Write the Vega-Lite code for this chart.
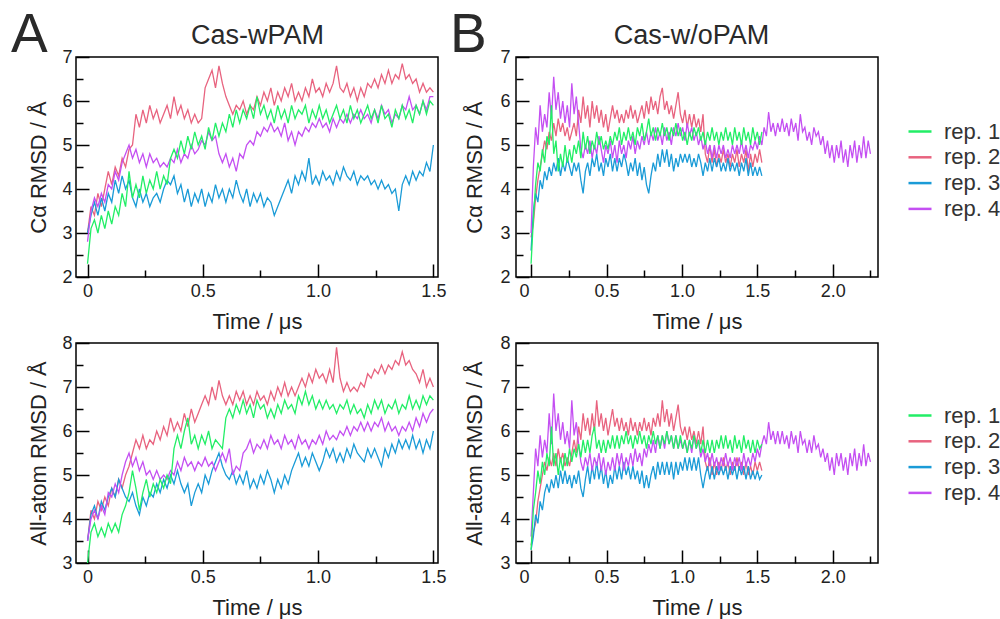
{
"$schema":"https://vega.github.io/schema/vega-lite/v6.json",
"background":"white",
"padding":{"left":10,"top":7,"right":0,"bottom":0},
"config":{
"font":"Liberation Sans",
"view":{"stroke":"#000","strokeWidth":1.5},
"axis":{"domain":false,"grid":false,"tickColor":"#000","tickWidth":1.5,"labelFontSize":18,"labelColor":"#222","labelFont":"Liberation Sans","titleFont":"Liberation Sans","titleFontSize":22,"titleFontWeight":"normal","titleColor":"#222","labelOverlap":false,"labelFlush":false,"labelBound":false},
"title":{"font":"Liberation Sans","fontWeight":"normal","color":"#2a2a2a"}
},
"datasets":{
"at":[
{"t":0,"a":2.3,"b":3.0,"c":3.0,"d":2.8},
{"t":0.015,"a":3.1,"b":3.6,"c":3.4,"d":3.5},
{"t":0.03,"a":3.3,"b":3.4,"c":3.7,"d":3.8},
{"t":0.045,"a":3.0,"b":3.9,"c":3.4,"d":3.6},
{"t":0.06,"a":3.4,"b":3.6,"c":3.8,"d":3.9},
{"t":0.075,"a":3.1,"b":4.0,"c":3.5,"d":3.7},
{"t":0.09,"a":3.5,"b":4.4,"c":3.9,"d":4.1},
{"t":0.105,"a":3.2,"b":4.1,"c":3.7,"d":4.0},
{"t":0.12,"a":3.6,"b":4.5,"c":4.2,"d":4.4},
{"t":0.135,"a":3.4,"b":4.3,"c":3.9,"d":4.2},
{"t":0.15,"a":3.9,"b":4.7,"c":4.3,"d":4.6},
{"t":0.165,"a":3.6,"b":4.5,"c":4.0,"d":4.8},
{"t":0.18,"a":4.4,"b":4.9,"c":4.2,"d":5.0},
{"t":0.195,"a":3.8,"b":5.0,"c":3.8,"d":4.7},
{"t":0.21,"a":4.1,"b":5.7,"c":3.6,"d":4.9},
{"t":0.225,"a":3.8,"b":5.4,"c":4.0,"d":4.6},
{"t":0.24,"a":4.3,"b":5.8,"c":3.7,"d":4.8},
{"t":0.255,"a":3.9,"b":5.5,"c":3.9,"d":4.5},
{"t":0.27,"a":4.2,"b":5.9,"c":3.6,"d":4.8},
{"t":0.285,"a":4.0,"b":5.6,"c":3.8,"d":4.6},
{"t":0.3,"a":4.4,"b":5.8,"c":3.9,"d":4.7},
{"t":0.315,"a":4.0,"b":5.5,"c":3.7,"d":4.5},
{"t":0.33,"a":4.3,"b":5.7,"c":4.0,"d":4.6},
{"t":0.345,"a":4.1,"b":5.9,"c":4.2,"d":4.5},
{"t":0.36,"a":4.7,"b":5.6,"c":4.1,"d":4.7},
{"t":0.375,"a":4.9,"b":6.1,"c":4.3,"d":4.6},
{"t":0.39,"a":4.7,"b":5.7,"c":3.9,"d":4.9},
{"t":0.405,"a":5.1,"b":5.9,"c":4.1,"d":4.6},
{"t":0.42,"a":4.8,"b":5.6,"c":3.7,"d":4.8},
{"t":0.435,"a":5.2,"b":5.8,"c":4.0,"d":4.7},
{"t":0.45,"a":4.9,"b":5.5,"c":3.6,"d":5.0},
{"t":0.465,"a":5.3,"b":5.7,"c":3.9,"d":4.8},
{"t":0.48,"a":5.0,"b":5.5,"c":3.7,"d":4.9},
{"t":0.495,"a":5.2,"b":5.6,"c":4.0,"d":5.1},
{"t":0.51,"a":4.9,"b":6.3,"c":3.6,"d":5.0},
{"t":0.525,"a":5.4,"b":6.5,"c":3.9,"d":5.3},
{"t":0.54,"a":5.1,"b":6.7,"c":3.7,"d":5.1},
{"t":0.555,"a":5.5,"b":6.3,"c":4.1,"d":5.2},
{"t":0.57,"a":5.2,"b":6.8,"c":3.8,"d":4.8},
{"t":0.585,"a":5.5,"b":6.4,"c":4.0,"d":4.6},
{"t":0.6,"a":5.3,"b":6.1,"c":3.7,"d":4.8},
{"t":0.615,"a":5.7,"b":5.9,"c":4.0,"d":4.5},
{"t":0.63,"a":5.4,"b":5.7,"c":3.8,"d":4.7},
{"t":0.645,"a":5.8,"b":5.9,"c":4.2,"d":4.4},
{"t":0.66,"a":5.5,"b":5.8,"c":3.9,"d":4.8},
{"t":0.675,"a":5.8,"b":6.0,"c":3.7,"d":4.7},
{"t":0.69,"a":5.6,"b":5.7,"c":4.0,"d":5.0},
{"t":0.705,"a":5.9,"b":5.9,"c":3.6,"d":5.1},
{"t":0.72,"a":5.6,"b":5.8,"c":3.9,"d":5.0},
{"t":0.735,"a":6.1,"b":6.1,"c":3.7,"d":5.3},
{"t":0.75,"a":5.7,"b":5.9,"c":3.9,"d":5.2},
{"t":0.765,"a":5.9,"b":6.2,"c":3.6,"d":5.4},
{"t":0.78,"a":5.6,"b":6.0,"c":3.8,"d":5.3},
{"t":0.795,"a":5.8,"b":6.3,"c":3.7,"d":5.5},
{"t":0.81,"a":5.5,"b":5.9,"c":3.4,"d":5.3},
{"t":0.825,"a":5.9,"b":6.2,"c":3.6,"d":5.4},
{"t":0.84,"a":5.6,"b":6.0,"c":3.8,"d":5.2},
{"t":0.855,"a":5.8,"b":6.3,"c":4.0,"d":5.5},
{"t":0.87,"a":5.5,"b":6.1,"c":4.2,"d":5.1},
{"t":0.885,"a":5.9,"b":6.4,"c":3.9,"d":5.3},
{"t":0.9,"a":5.6,"b":6.0,"c":4.3,"d":5.0},
{"t":0.915,"a":5.8,"b":6.2,"c":4.1,"d":5.3},
{"t":0.93,"a":5.7,"b":6.0,"c":4.4,"d":5.2},
{"t":0.945,"a":5.9,"b":6.3,"c":4.2,"d":5.4},
{"t":0.96,"a":5.5,"b":6.1,"c":4.7,"d":5.3},
{"t":0.975,"a":5.8,"b":6.5,"c":4.1,"d":5.5},
{"t":0.99,"a":5.6,"b":6.2,"c":4.3,"d":5.4},
{"t":1.005,"a":5.9,"b":6.3,"c":4.1,"d":5.6},
{"t":1.02,"a":5.6,"b":6.1,"c":4.4,"d":5.4},
{"t":1.035,"a":5.8,"b":6.4,"c":4.2,"d":5.5},
{"t":1.05,"a":5.5,"b":6.2,"c":4.3,"d":5.3},
{"t":1.065,"a":5.7,"b":6.4,"c":4.1,"d":5.6},
{"t":1.08,"a":5.9,"b":6.8,"c":4.4,"d":5.4},
{"t":1.095,"a":5.6,"b":6.3,"c":4.2,"d":5.6},
{"t":1.11,"a":5.8,"b":6.2,"c":4.5,"d":5.5},
{"t":1.125,"a":5.5,"b":6.4,"c":4.3,"d":5.7},
{"t":1.14,"a":5.9,"b":6.1,"c":4.2,"d":5.5},
{"t":1.155,"a":5.6,"b":6.3,"c":4.4,"d":5.7},
{"t":1.17,"a":5.8,"b":6.0,"c":4.1,"d":5.6},
{"t":1.185,"a":5.5,"b":6.3,"c":4.3,"d":5.8},
{"t":1.2,"a":5.7,"b":6.1,"c":4.2,"d":5.6},
{"t":1.215,"a":5.9,"b":6.4,"c":4.3,"d":5.7},
{"t":1.23,"a":5.6,"b":6.3,"c":4.1,"d":5.5},
{"t":1.245,"a":5.8,"b":6.5,"c":4.2,"d":5.8},
{"t":1.26,"a":5.5,"b":6.3,"c":4.0,"d":5.6},
{"t":1.275,"a":5.9,"b":6.6,"c":4.2,"d":5.9},
{"t":1.29,"a":5.6,"b":6.4,"c":4.0,"d":5.7},
{"t":1.305,"a":5.7,"b":6.7,"c":4.1,"d":5.8},
{"t":1.32,"a":5.4,"b":6.4,"c":3.9,"d":5.5},
{"t":1.335,"a":5.8,"b":6.6,"c":4.0,"d":5.7},
{"t":1.35,"a":5.6,"b":6.5,"c":3.5,"d":5.6},
{"t":1.365,"a":5.9,"b":6.85,"c":4.1,"d":5.9},
{"t":1.38,"a":5.6,"b":6.5,"c":4.3,"d":5.8},
{"t":1.395,"a":5.8,"b":6.6,"c":4.1,"d":6.1},
{"t":1.41,"a":5.5,"b":6.4,"c":4.4,"d":5.8},
{"t":1.425,"a":5.9,"b":6.5,"c":4.2,"d":5.9},
{"t":1.44,"a":5.7,"b":6.2,"c":4.4,"d":5.7},
{"t":1.455,"a":6.0,"b":6.4,"c":4.3,"d":6.0},
{"t":1.47,"a":5.7,"b":6.2,"c":4.6,"d":5.8},
{"t":1.485,"a":6.0,"b":6.3,"c":4.4,"d":6.1},
{"t":1.5,"a":5.9,"b":6.2,"c":5.0,"d":6.1}
],
"ab":[
{"t":0,"a":3.0,"b":3.5,"c":3.5,"d":3.5},
{"t":0.015,"a":3.7,"b":4.2,"c":4.1,"d":4.0},
{"t":0.03,"a":3.9,"b":4.0,"c":4.3,"d":4.2},
{"t":0.045,"a":3.6,"b":4.4,"c":4.0,"d":4.0},
{"t":0.06,"a":3.8,"b":4.2,"c":4.4,"d":4.3},
{"t":0.075,"a":3.6,"b":4.5,"c":4.2,"d":4.1},
{"t":0.09,"a":3.9,"b":4.3,"c":4.5,"d":4.6},
{"t":0.105,"a":3.7,"b":4.7,"c":4.7,"d":4.5},
{"t":0.12,"a":3.9,"b":4.5,"c":4.5,"d":4.8},
{"t":0.135,"a":3.7,"b":4.9,"c":4.9,"d":4.6},
{"t":0.15,"a":4.1,"b":4.7,"c":4.7,"d":5.0},
{"t":0.165,"a":4.3,"b":5.0,"c":4.5,"d":5.3},
{"t":0.18,"a":4.6,"b":5.2,"c":4.4,"d":5.5},
{"t":0.195,"a":5.1,"b":5.5,"c":4.6,"d":5.2},
{"t":0.21,"a":4.7,"b":5.8,"c":4.3,"d":5.4},
{"t":0.225,"a":4.2,"b":5.6,"c":4.1,"d":5.1},
{"t":0.24,"a":4.6,"b":5.9,"c":4.5,"d":5.3},
{"t":0.255,"a":4.9,"b":5.6,"c":4.3,"d":5.0},
{"t":0.27,"a":4.5,"b":5.8,"c":4.6,"d":5.1},
{"t":0.285,"a":4.8,"b":5.7,"c":4.5,"d":4.9},
{"t":0.3,"a":4.6,"b":6.0,"c":4.8,"d":5.1},
{"t":0.315,"a":4.9,"b":5.8,"c":4.6,"d":4.9},
{"t":0.33,"a":4.7,"b":6.1,"c":4.9,"d":5.0},
{"t":0.345,"a":5.0,"b":5.9,"c":4.7,"d":4.9},
{"t":0.36,"a":4.8,"b":6.3,"c":5.0,"d":5.1},
{"t":0.375,"a":5.6,"b":6.0,"c":4.8,"d":5.0},
{"t":0.39,"a":5.9,"b":6.2,"c":5.1,"d":5.3},
{"t":0.405,"a":5.6,"b":6.0,"c":4.8,"d":5.1},
{"t":0.42,"a":6.0,"b":6.4,"c":4.6,"d":5.4},
{"t":0.435,"a":6.3,"b":6.1,"c":4.8,"d":5.2},
{"t":0.45,"a":5.7,"b":6.5,"c":4.3,"d":5.3},
{"t":0.465,"a":5.9,"b":6.2,"c":4.6,"d":5.1},
{"t":0.48,"a":5.6,"b":6.4,"c":4.8,"d":5.3},
{"t":0.495,"a":5.9,"b":6.6,"c":4.6,"d":5.2},
{"t":0.51,"a":5.7,"b":6.8,"c":5.0,"d":5.4},
{"t":0.525,"a":6.0,"b":6.6,"c":4.8,"d":5.2},
{"t":0.54,"a":5.6,"b":7.0,"c":5.1,"d":5.3},
{"t":0.555,"a":5.8,"b":6.7,"c":5.3,"d":5.1},
{"t":0.57,"a":5.7,"b":7.15,"c":5.5,"d":5.3},
{"t":0.585,"a":5.6,"b":6.8,"c":5.2,"d":5.5},
{"t":0.6,"a":6.3,"b":6.6,"c":5.0,"d":5.3},
{"t":0.615,"a":6.5,"b":6.8,"c":4.9,"d":5.6},
{"t":0.63,"a":6.3,"b":6.6,"c":5.1,"d":5.0},
{"t":0.645,"a":6.6,"b":6.9,"c":4.8,"d":5.2},
{"t":0.66,"a":6.4,"b":6.7,"c":5.0,"d":5.1},
{"t":0.675,"a":6.7,"b":6.9,"c":4.8,"d":5.5},
{"t":0.69,"a":6.4,"b":6.6,"c":5.1,"d":5.6},
{"t":0.705,"a":6.6,"b":6.8,"c":4.7,"d":5.8},
{"t":0.72,"a":6.3,"b":6.6,"c":4.9,"d":5.5},
{"t":0.735,"a":6.7,"b":6.9,"c":4.7,"d":5.7},
{"t":0.75,"a":6.5,"b":6.7,"c":5.0,"d":5.6},
{"t":0.765,"a":6.6,"b":6.8,"c":4.8,"d":5.8},
{"t":0.78,"a":6.3,"b":6.6,"c":5.1,"d":5.6},
{"t":0.795,"a":6.5,"b":6.9,"c":4.9,"d":5.9},
{"t":0.81,"a":6.3,"b":6.7,"c":4.6,"d":5.7},
{"t":0.825,"a":6.6,"b":7.0,"c":4.9,"d":5.8},
{"t":0.84,"a":6.4,"b":6.8,"c":4.7,"d":5.6},
{"t":0.855,"a":6.7,"b":7.1,"c":5.0,"d":5.9},
{"t":0.87,"a":6.5,"b":6.8,"c":4.8,"d":5.7},
{"t":0.885,"a":6.6,"b":7.0,"c":5.1,"d":5.8},
{"t":0.9,"a":6.4,"b":6.8,"c":5.3,"d":5.6},
{"t":0.915,"a":6.8,"b":7.0,"c":5.5,"d":5.9},
{"t":0.93,"a":6.6,"b":7.2,"c":5.2,"d":5.7},
{"t":0.945,"a":6.9,"b":7.0,"c":5.4,"d":5.8},
{"t":0.96,"a":6.6,"b":7.3,"c":5.2,"d":5.6},
{"t":0.975,"a":6.8,"b":7.1,"c":5.5,"d":5.8},
{"t":0.99,"a":6.5,"b":7.4,"c":5.3,"d":5.7},
{"t":1.005,"a":6.7,"b":7.2,"c":5.1,"d":5.9},
{"t":1.02,"a":6.5,"b":7.3,"c":5.3,"d":5.7},
{"t":1.035,"a":6.7,"b":7.1,"c":5.6,"d":6.0},
{"t":1.05,"a":6.5,"b":7.4,"c":5.4,"d":5.8},
{"t":1.065,"a":6.6,"b":7.1,"c":5.6,"d":5.9},
{"t":1.08,"a":6.4,"b":7.9,"c":5.3,"d":5.8},
{"t":1.095,"a":6.6,"b":7.2,"c":5.5,"d":6.0},
{"t":1.11,"a":6.5,"b":6.9,"c":5.3,"d":5.9},
{"t":1.125,"a":6.7,"b":7.1,"c":5.6,"d":6.1},
{"t":1.14,"a":6.4,"b":6.9,"c":5.4,"d":5.9},
{"t":1.155,"a":6.6,"b":7.0,"c":5.7,"d":6.1},
{"t":1.17,"a":6.4,"b":6.9,"c":5.5,"d":6.0},
{"t":1.185,"a":6.5,"b":7.1,"c":5.4,"d":6.2},
{"t":1.2,"a":6.3,"b":7.0,"c":5.3,"d":6.0},
{"t":1.215,"a":6.6,"b":7.3,"c":5.6,"d":6.2},
{"t":1.23,"a":6.4,"b":7.2,"c":5.4,"d":6.0},
{"t":1.245,"a":6.7,"b":7.4,"c":5.6,"d":6.2},
{"t":1.26,"a":6.5,"b":7.3,"c":5.4,"d":6.1},
{"t":1.275,"a":6.7,"b":7.5,"c":5.2,"d":6.3},
{"t":1.29,"a":6.4,"b":7.3,"c":5.6,"d":6.0},
{"t":1.305,"a":6.6,"b":7.5,"c":5.4,"d":6.2},
{"t":1.32,"a":6.5,"b":7.4,"c":5.7,"d":6.0},
{"t":1.335,"a":6.7,"b":7.6,"c":5.5,"d":6.1},
{"t":1.35,"a":6.4,"b":7.5,"c":5.8,"d":5.9},
{"t":1.365,"a":6.6,"b":7.8,"c":5.6,"d":6.1},
{"t":1.38,"a":6.5,"b":7.5,"c":5.8,"d":6.0},
{"t":1.395,"a":6.8,"b":7.6,"c":5.6,"d":6.2},
{"t":1.41,"a":6.5,"b":7.4,"c":5.9,"d":6.0},
{"t":1.425,"a":6.7,"b":7.3,"c":5.6,"d":6.3},
{"t":1.44,"a":6.5,"b":7.1,"c":5.8,"d":6.1},
{"t":1.455,"a":6.8,"b":7.4,"c":5.5,"d":6.4},
{"t":1.47,"a":6.6,"b":7.0,"c":5.8,"d":6.2},
{"t":1.485,"a":6.8,"b":7.2,"c":5.6,"d":6.4},
{"t":1.5,"a":6.7,"b":7.0,"c":6.0,"d":6.5}
],
"bt":[
{"t":0,"a":2.3,"b":2.9,"c":2.6,"d":3.0},
{"t":0.015,"a":3.3,"b":3.2,"c":3.5,"d":4.5},
{"t":0.03,"a":4.1,"b":3.8,"c":3.9,"d":5.4},
{"t":0.045,"a":4.6,"b":4.2,"c":3.7,"d":5.0},
{"t":0.06,"a":4.4,"b":4.5,"c":4.2,"d":5.9},
{"t":0.075,"a":4.9,"b":4.8,"c":4.0,"d":5.3},
{"t":0.09,"a":4.6,"b":5.1,"c":4.4,"d":5.7},
{"t":0.105,"a":5.2,"b":4.9,"c":4.2,"d":5.4},
{"t":0.12,"a":5.0,"b":5.3,"c":4.5,"d":6.2},
{"t":0.135,"a":5.9,"b":5.1,"c":4.3,"d":5.6},
{"t":0.15,"a":4.8,"b":5.5,"c":4.6,"d":6.55},
{"t":0.165,"a":5.1,"b":5.2,"c":4.4,"d":5.8},
{"t":0.18,"a":4.4,"b":5.6,"c":4.7,"d":6.2},
{"t":0.195,"a":4.8,"b":5.3,"c":4.3,"d":5.6},
{"t":0.21,"a":4.5,"b":5.5,"c":4.6,"d":6.0},
{"t":0.225,"a":5.0,"b":5.2,"c":4.4,"d":5.5},
{"t":0.24,"a":4.6,"b":5.4,"c":4.7,"d":5.9},
{"t":0.255,"a":4.9,"b":5.1,"c":4.5,"d":5.4},
{"t":0.27,"a":4.6,"b":5.3,"c":4.3,"d":6.4},
{"t":0.285,"a":5.0,"b":5.5,"c":4.6,"d":5.7},
{"t":0.3,"a":4.8,"b":5.2,"c":4.4,"d":6.1},
{"t":0.315,"a":5.1,"b":5.8,"c":4.6,"d":5.5},
{"t":0.33,"a":4.7,"b":5.5,"c":4.2,"d":4.9},
{"t":0.345,"a":5.3,"b":6.1,"c":3.9,"d":4.7},
{"t":0.36,"a":4.9,"b":5.6,"c":4.4,"d":5.0},
{"t":0.375,"a":5.2,"b":5.9,"c":4.6,"d":4.8},
{"t":0.39,"a":4.8,"b":5.4,"c":4.3,"d":5.1},
{"t":0.405,"a":5.1,"b":6.0,"c":4.7,"d":4.7},
{"t":0.42,"a":4.9,"b":5.6,"c":4.5,"d":5.0},
{"t":0.435,"a":5.3,"b":5.9,"c":4.8,"d":4.8},
{"t":0.45,"a":5.0,"b":5.5,"c":4.4,"d":5.2},
{"t":0.465,"a":5.2,"b":5.8,"c":4.6,"d":4.9},
{"t":0.48,"a":4.9,"b":5.4,"c":4.3,"d":4.6},
{"t":0.495,"a":5.1,"b":5.7,"c":4.7,"d":5.0},
{"t":0.51,"a":4.9,"b":5.3,"c":4.5,"d":4.8},
{"t":0.525,"a":5.2,"b":5.6,"c":4.8,"d":5.1},
{"t":0.54,"a":5.0,"b":5.9,"c":4.4,"d":4.7},
{"t":0.555,"a":5.3,"b":5.6,"c":4.7,"d":5.0},
{"t":0.57,"a":5.1,"b":5.8,"c":4.4,"d":4.6},
{"t":0.585,"a":5.4,"b":5.5,"c":4.7,"d":5.1},
{"t":0.6,"a":5.0,"b":5.7,"c":4.5,"d":4.8},
{"t":0.615,"a":5.3,"b":5.5,"c":4.8,"d":5.0},
{"t":0.63,"a":5.1,"b":5.8,"c":4.6,"d":4.7},
{"t":0.645,"a":5.4,"b":5.6,"c":4.3,"d":5.1},
{"t":0.66,"a":5.1,"b":5.9,"c":4.6,"d":4.9},
{"t":0.675,"a":5.3,"b":5.6,"c":4.4,"d":5.2},
{"t":0.69,"a":5.0,"b":5.8,"c":4.7,"d":4.8},
{"t":0.705,"a":5.4,"b":5.5,"c":4.3,"d":5.1},
{"t":0.72,"a":5.2,"b":5.7,"c":4.6,"d":4.9},
{"t":0.735,"a":5.5,"b":5.9,"c":4.2,"d":5.2},
{"t":0.75,"a":5.1,"b":5.6,"c":4.5,"d":5.0},
{"t":0.765,"a":5.3,"b":6.0,"c":4.1,"d":5.3},
{"t":0.78,"a":5.6,"b":5.7,"c":3.9,"d":5.0},
{"t":0.795,"a":5.2,"b":6.1,"c":4.3,"d":5.3},
{"t":0.81,"a":5.4,"b":5.8,"c":4.6,"d":5.1},
{"t":0.825,"a":5.1,"b":6.0,"c":4.4,"d":5.4},
{"t":0.84,"a":5.4,"b":5.7,"c":4.8,"d":5.1},
{"t":0.855,"a":5.2,"b":6.1,"c":4.5,"d":5.3},
{"t":0.87,"a":5.5,"b":6.3,"c":4.9,"d":5.0},
{"t":0.885,"a":5.2,"b":5.8,"c":4.6,"d":5.4},
{"t":0.9,"a":5.4,"b":6.0,"c":4.9,"d":5.1},
{"t":0.915,"a":5.1,"b":5.7,"c":4.5,"d":5.3},
{"t":0.93,"a":5.4,"b":5.9,"c":4.8,"d":5.0},
{"t":0.945,"a":5.2,"b":5.6,"c":4.4,"d":5.4},
{"t":0.96,"a":5.5,"b":5.9,"c":4.7,"d":5.2},
{"t":0.975,"a":5.2,"b":6.2,"c":4.5,"d":5.5},
{"t":0.99,"a":5.4,"b":5.7,"c":4.8,"d":5.2},
{"t":1.005,"a":5.1,"b":5.5,"c":4.6,"d":5.4},
{"t":1.02,"a":5.3,"b":5.8,"c":4.8,"d":5.1},
{"t":1.035,"a":5.0,"b":5.4,"c":4.6,"d":5.5},
{"t":1.05,"a":5.3,"b":5.7,"c":4.8,"d":5.2},
{"t":1.065,"a":5.1,"b":5.4,"c":4.5,"d":5.4},
{"t":1.08,"a":5.4,"b":5.7,"c":4.7,"d":5.1},
{"t":1.095,"a":5.2,"b":5.4,"c":4.5,"d":5.3},
{"t":1.11,"a":5.4,"b":5.6,"c":4.8,"d":5.0},
{"t":1.125,"a":5.1,"b":5.3,"c":4.6,"d":5.2},
{"t":1.14,"a":5.3,"b":5.7,"c":4.3,"d":4.9},
{"t":1.155,"a":5.0,"b":4.8,"c":4.6,"d":5.1},
{"t":1.17,"a":5.3,"b":4.6,"c":4.4,"d":4.8},
{"t":1.185,"a":5.1,"b":5.0,"c":4.7,"d":5.0},
{"t":1.2,"a":5.4,"b":4.6,"c":4.4,"d":4.7},
{"t":1.215,"a":5.1,"b":4.9,"c":4.7,"d":5.0},
{"t":1.23,"a":5.3,"b":4.5,"c":4.5,"d":4.7},
{"t":1.245,"a":5.0,"b":4.8,"c":4.7,"d":5.0},
{"t":1.26,"a":5.3,"b":4.6,"c":4.4,"d":4.8},
{"t":1.275,"a":5.1,"b":4.9,"c":4.6,"d":5.0},
{"t":1.29,"a":5.4,"b":4.6,"c":4.4,"d":4.7},
{"t":1.305,"a":5.1,"b":4.8,"c":4.7,"d":4.9},
{"t":1.32,"a":5.3,"b":4.5,"c":4.4,"d":4.7},
{"t":1.335,"a":5.0,"b":4.8,"c":4.6,"d":5.0},
{"t":1.35,"a":5.4,"b":4.6,"c":4.4,"d":4.8},
{"t":1.365,"a":5.1,"b":4.9,"c":4.6,"d":5.0},
{"t":1.38,"a":5.3,"b":4.5,"c":4.3,"d":4.8},
{"t":1.395,"a":5.0,"b":4.8,"c":4.6,"d":5.1},
{"t":1.41,"a":5.4,"b":4.6,"c":4.4,"d":4.8},
{"t":1.425,"a":5.1,"b":4.9,"c":4.7,"d":5.0},
{"t":1.44,"a":5.3,"b":4.4,"c":4.3,"d":4.7},
{"t":1.455,"a":5.0,"b":4.8,"c":4.6,"d":5.0},
{"t":1.47,"a":5.4,"b":4.5,"c":4.3,"d":4.9},
{"t":1.485,"a":5.1,"b":4.8,"c":4.5,"d":5.1},
{"t":1.5,"a":5.3,"b":4.6,"c":4.3,"d":4.9},
{"t":1.515,"a":5.0,"b":4.9,"c":4.5,"d":5.2},
{"t":1.53,"a":5.3,"b":4.6,"c":4.3,"d":5.0},
{"t":1.545,"d":5.4},{"t":1.56,"d":5.2},{"t":1.575,"d":5.75},{"t":1.59,"d":5.3},{"t":1.605,"d":5.5},
{"t":1.62,"d":5.2},{"t":1.635,"d":5.5},{"t":1.65,"d":5.3},{"t":1.665,"d":5.6},{"t":1.68,"d":5.3},
{"t":1.695,"d":5.5},{"t":1.71,"d":5.2},{"t":1.725,"d":5.6},{"t":1.74,"d":5.3},{"t":1.755,"d":5.5},
{"t":1.77,"d":5.1},{"t":1.785,"d":5.7},{"t":1.8,"d":5.3},{"t":1.815,"d":5.4},{"t":1.83,"d":5.1},
{"t":1.845,"d":5.3},{"t":1.86,"d":5.0},{"t":1.875,"d":5.4},{"t":1.89,"d":5.2},{"t":1.905,"d":5.3},
{"t":1.92,"d":5.0},{"t":1.935,"d":5.2},{"t":1.95,"d":4.8},{"t":1.965,"d":5.1},{"t":1.98,"d":4.7},
{"t":1.995,"d":5.0},{"t":2.01,"d":4.6},{"t":2.025,"d":5.0},{"t":2.04,"d":4.7},{"t":2.055,"d":5.1},
{"t":2.07,"d":4.6},{"t":2.085,"d":4.9},{"t":2.1,"d":4.5},{"t":2.115,"d":5.0},{"t":2.13,"d":4.7},
{"t":2.145,"d":5.1},{"t":2.16,"d":4.6},{"t":2.175,"d":5.0},{"t":2.19,"d":4.7},{"t":2.205,"d":5.2},
{"t":2.22,"d":4.7},{"t":2.235,"d":5.1},{"t":2.25,"d":4.8}
],
"bb":[
{"t":0,"a":3.3,"b":3.4,"c":3.3,"d":3.6},
{"t":0.015,"a":4.2,"b":3.7,"c":3.6,"d":4.6},
{"t":0.03,"a":4.6,"b":3.9,"c":4.1,"d":5.6},
{"t":0.045,"a":5.1,"b":4.4,"c":3.9,"d":5.2},
{"t":0.06,"a":4.8,"b":4.7,"c":4.4,"d":5.9},
{"t":0.075,"a":5.3,"b":5.0,"c":4.2,"d":5.4},
{"t":0.09,"a":5.0,"b":5.3,"c":4.6,"d":5.8},
{"t":0.105,"a":5.5,"b":5.1,"c":4.8,"d":5.5},
{"t":0.12,"a":5.2,"b":5.4,"c":4.6,"d":6.4},
{"t":0.135,"a":6.1,"b":5.2,"c":4.9,"d":5.7},
{"t":0.15,"a":5.2,"b":5.5,"c":4.7,"d":6.85},
{"t":0.165,"a":5.5,"b":5.2,"c":5.0,"d":6.0},
{"t":0.18,"a":5.0,"b":5.6,"c":4.7,"d":6.4},
{"t":0.195,"a":5.4,"b":5.3,"c":5.1,"d":5.8},
{"t":0.21,"a":5.1,"b":5.5,"c":4.8,"d":6.2},
{"t":0.225,"a":5.5,"b":5.2,"c":5.1,"d":5.7},
{"t":0.24,"a":5.2,"b":5.4,"c":4.8,"d":6.0},
{"t":0.255,"a":5.6,"b":5.2,"c":5.0,"d":5.6},
{"t":0.27,"a":5.3,"b":5.5,"c":4.7,"d":6.7},
{"t":0.285,"a":5.6,"b":5.8,"c":5.0,"d":5.9},
{"t":0.3,"a":5.4,"b":5.5,"c":4.8,"d":6.2},
{"t":0.315,"a":5.7,"b":6.1,"c":5.1,"d":5.7},
{"t":0.33,"a":5.4,"b":5.8,"c":4.7,"d":5.3},
{"t":0.345,"a":5.8,"b":6.4,"c":4.5,"d":5.1},
{"t":0.36,"a":5.5,"b":6.0,"c":4.9,"d":5.4},
{"t":0.375,"a":5.8,"b":6.3,"c":5.2,"d":5.2},
{"t":0.39,"a":5.5,"b":5.9,"c":4.8,"d":5.5},
{"t":0.405,"a":5.9,"b":6.4,"c":5.2,"d":5.1},
{"t":0.42,"a":6.1,"b":6.0,"c":4.9,"d":5.4},
{"t":0.435,"a":5.6,"b":6.7,"c":5.3,"d":5.2},
{"t":0.45,"a":5.8,"b":6.1,"c":4.9,"d":5.5},
{"t":0.465,"a":5.5,"b":6.4,"c":5.2,"d":5.1},
{"t":0.48,"a":5.8,"b":6.0,"c":4.8,"d":5.4},
{"t":0.495,"a":5.5,"b":6.3,"c":5.1,"d":5.0},
{"t":0.51,"a":5.8,"b":5.9,"c":4.7,"d":5.3},
{"t":0.525,"a":5.6,"b":6.2,"c":5.0,"d":5.1},
{"t":0.54,"a":5.9,"b":6.5,"c":4.8,"d":5.4},
{"t":0.555,"a":5.6,"b":6.1,"c":5.2,"d":5.1},
{"t":0.57,"a":5.9,"b":6.3,"c":4.9,"d":5.5},
{"t":0.585,"a":5.6,"b":6.0,"c":5.2,"d":5.2},
{"t":0.6,"a":5.9,"b":6.3,"c":4.9,"d":5.5},
{"t":0.615,"a":5.7,"b":6.0,"c":5.3,"d":5.1},
{"t":0.63,"a":6.0,"b":6.2,"c":5.0,"d":5.4},
{"t":0.645,"a":5.7,"b":5.9,"c":5.2,"d":5.2},
{"t":0.66,"a":5.9,"b":6.3,"c":4.9,"d":5.5},
{"t":0.675,"a":5.6,"b":6.0,"c":5.2,"d":5.2},
{"t":0.69,"a":5.9,"b":6.2,"c":4.9,"d":5.6},
{"t":0.705,"a":5.7,"b":5.9,"c":5.1,"d":5.3},
{"t":0.72,"a":6.0,"b":6.2,"c":4.8,"d":5.5},
{"t":0.735,"a":5.7,"b":6.0,"c":5.1,"d":5.2},
{"t":0.75,"a":5.9,"b":6.3,"c":4.7,"d":5.6},
{"t":0.765,"a":5.6,"b":6.0,"c":5.0,"d":5.4},
{"t":0.78,"a":5.9,"b":6.2,"c":4.7,"d":5.7},
{"t":0.795,"a":5.7,"b":5.9,"c":5.0,"d":5.5},
{"t":0.81,"a":6.0,"b":6.3,"c":5.2,"d":5.8},
{"t":0.825,"a":5.7,"b":6.1,"c":4.9,"d":5.5},
{"t":0.84,"a":5.9,"b":6.4,"c":5.3,"d":5.9},
{"t":0.855,"a":5.6,"b":6.1,"c":5.0,"d":5.6},
{"t":0.87,"a":5.9,"b":6.7,"c":5.3,"d":5.9},
{"t":0.885,"a":5.7,"b":6.2,"c":5.0,"d":5.6},
{"t":0.9,"a":6.0,"b":6.5,"c":5.3,"d":6.0},
{"t":0.915,"a":5.7,"b":6.1,"c":5.0,"d":5.7},
{"t":0.93,"a":5.9,"b":6.4,"c":5.3,"d":5.9},
{"t":0.945,"a":5.6,"b":6.0,"c":4.9,"d":5.6},
{"t":0.96,"a":5.9,"b":6.3,"c":5.3,"d":5.9},
{"t":0.975,"a":5.6,"b":6.6,"c":5.0,"d":5.6},
{"t":0.99,"a":5.9,"b":6.1,"c":5.3,"d":5.8},
{"t":1.005,"a":5.6,"b":5.9,"c":5.1,"d":5.6},
{"t":1.02,"a":5.8,"b":6.1,"c":5.4,"d":5.8},
{"t":1.035,"a":5.5,"b":5.8,"c":5.1,"d":5.5},
{"t":1.05,"a":5.8,"b":6.1,"c":5.4,"d":5.8},
{"t":1.065,"a":5.6,"b":5.8,"c":5.1,"d":5.5},
{"t":1.08,"a":5.9,"b":6.0,"c":5.4,"d":5.9},
{"t":1.095,"a":5.6,"b":5.7,"c":5.1,"d":5.6},
{"t":1.11,"a":5.8,"b":6.0,"c":5.4,"d":5.8},
{"t":1.125,"a":5.5,"b":5.7,"c":5.0,"d":5.4},
{"t":1.14,"a":5.8,"b":6.1,"c":4.7,"d":5.6},
{"t":1.155,"a":5.5,"b":5.3,"c":5.0,"d":5.3},
{"t":1.17,"a":5.8,"b":5.1,"c":5.2,"d":5.5},
{"t":1.185,"a":5.5,"b":5.4,"c":4.9,"d":5.2},
{"t":1.2,"a":5.8,"b":5.0,"c":5.2,"d":5.5},
{"t":1.215,"a":5.5,"b":5.3,"c":4.9,"d":5.2},
{"t":1.23,"a":5.8,"b":5.0,"c":5.2,"d":5.4},
{"t":1.245,"a":5.6,"b":5.3,"c":5.0,"d":5.1},
{"t":1.26,"a":5.9,"b":5.1,"c":5.2,"d":5.4},
{"t":1.275,"a":5.6,"b":5.4,"c":5.0,"d":5.2},
{"t":1.29,"a":5.9,"b":5.1,"c":5.2,"d":5.5},
{"t":1.305,"a":5.6,"b":5.3,"c":4.9,"d":5.2},
{"t":1.32,"a":5.8,"b":5.0,"c":5.2,"d":5.4},
{"t":1.335,"a":5.5,"b":5.3,"c":5.0,"d":5.1},
{"t":1.35,"a":5.9,"b":5.1,"c":5.2,"d":5.4},
{"t":1.365,"a":5.6,"b":5.4,"c":4.9,"d":5.2},
{"t":1.38,"a":5.8,"b":5.1,"c":5.2,"d":5.4},
{"t":1.395,"a":5.5,"b":5.3,"c":5.0,"d":5.1},
{"t":1.41,"a":5.9,"b":5.0,"c":5.2,"d":5.5},
{"t":1.425,"a":5.6,"b":5.3,"c":4.9,"d":5.2},
{"t":1.44,"a":5.8,"b":5.0,"c":5.2,"d":5.4},
{"t":1.455,"a":5.5,"b":5.2,"c":4.9,"d":5.2},
{"t":1.47,"a":5.8,"b":5.0,"c":5.1,"d":5.5},
{"t":1.485,"a":5.5,"b":5.3,"c":4.9,"d":5.3},
{"t":1.5,"a":5.8,"b":5.1,"c":5.1,"d":5.6},
{"t":1.515,"a":5.6,"b":5.3,"c":4.9,"d":5.4},
{"t":1.53,"a":5.7,"b":5.1,"c":5.0,"d":5.7},
{"t":1.545,"d":5.9},{"t":1.56,"d":5.7},{"t":1.575,"d":6.2},{"t":1.59,"d":5.8},{"t":1.605,"d":6.0},
{"t":1.62,"d":5.7},{"t":1.635,"d":6.0},{"t":1.65,"d":5.7},{"t":1.665,"d":6.0},{"t":1.68,"d":5.7},
{"t":1.695,"d":5.9},{"t":1.71,"d":5.6},{"t":1.725,"d":6.0},{"t":1.74,"d":5.7},{"t":1.755,"d":5.9},
{"t":1.77,"d":5.5},{"t":1.785,"d":6.0},{"t":1.8,"d":5.7},{"t":1.815,"d":5.8},{"t":1.83,"d":5.5},
{"t":1.845,"d":5.8},{"t":1.86,"d":5.5},{"t":1.875,"d":5.9},{"t":1.89,"d":5.6},{"t":1.905,"d":5.7},
{"t":1.92,"d":5.4},{"t":1.935,"d":5.6},{"t":1.95,"d":5.3},{"t":1.965,"d":5.5},{"t":1.98,"d":5.1},
{"t":1.995,"d":5.4},{"t":2.01,"d":5.0},{"t":2.025,"d":5.5},{"t":2.04,"d":5.2},{"t":2.055,"d":5.5},
{"t":2.07,"d":5.1},{"t":2.085,"d":5.4},{"t":2.1,"d":5.0},{"t":2.115,"d":5.5},{"t":2.13,"d":5.2},
{"t":2.145,"d":5.6},{"t":2.16,"d":5.1},{"t":2.175,"d":5.5},{"t":2.19,"d":5.2},{"t":2.205,"d":5.7},
{"t":2.22,"d":5.2},{"t":2.235,"d":5.5},{"t":2.25,"d":5.3}
]
},
"columns":2,
"spacing":{"row":66,"column":78},
"bounds":"flush",
"resolve":{"scale":{"color":"independent"},"legend":{"color":"independent"}},
"concat":[
{"width":362,"height":220,
"data":{"name":"at"},
"transform":[{"fold":["b","c","d","a"],"as":["rep","v"]},{"filter":"isValid(datum.v)"}],
"title":{"text":"A","anchor":"start","frame":"group","dx":-65,"dy":86,"offset":0,"fontSize":55,"baseline":"alphabetic"},
"layer":[
{"mark":{"type":"line","strokeWidth":1.3,"clip":true},
"encoding":{
"x":{"field":"t","type":"quantitative","scale":{"domain":[-0.05,1.52],"nice":false,"zero":false},
"axis":{"orient":"bottom","values":[0,0.25,0.5,0.75,1,1.25,1.5],"tickSize":{"condition":{"test":"datum.value*2 % 1 === 0","value":-13},"value":-7},"labelExpr":"datum.value === 0 ? '0' : (datum.value*2 % 1 === 0 ? format(datum.value,'.1f') : '')","labelPadding":18,"title":"Time / μs","titleY":51,"titleBaseline":"alphabetic"}},
"y":{"field":"v","type":"quantitative","scale":{"domain":[2,7],"nice":false,"zero":false},
"axis":{"orient":"left","values":[2,2.5,3,3.5,4,4.5,5,5.5,6,6.5,7],"tickSize":{"condition":{"test":"datum.value % 1 === 0","value":-13},"value":-7},"labelExpr":"datum.value % 1 === 0 ? format(datum.value,'d') : ''","labelPadding":17,"title":"Cα RMSD / Å","titleX":-38,"titleY":110,"titleAngle":-90,"titleAlign":"center","titleBaseline":"middle"}},
"color":{"field":"rep","type":"nominal","scale":{"domain":["a","b","c","d"],"range":["#22ee66","#e8637f","#1a9bd7","#c44ff2"]},"legend":null}
}},
{"mark":{"type":"rule","opacity":0},
"encoding":{
"x":{"field":"t","type":"quantitative","axis":{"orient":"top","labels":false,"ticks":false,"title":"Cas-wPAM","titleFontSize":27,"titleX":181,"titleY":-14,"titleAlign":"center","titleBaseline":"alphabetic","titleColor":"#2a2a2a"}}
}}
]},
{"width":362,"height":220,
"data":{"name":"bt"},
"transform":[{"fold":["b","c","d","a"],"as":["rep","v"]},{"filter":"isValid(datum.v)"}],
"title":{"text":"B","anchor":"start","frame":"group","dx":-66,"dy":86,"offset":0,"fontSize":55,"baseline":"alphabetic"},
"layer":[
{"mark":{"type":"line","strokeWidth":1.3,"clip":true},
"encoding":{
"x":{"field":"t","type":"quantitative","scale":{"domain":[-0.1,2.3],"nice":false,"zero":false},
"axis":{"orient":"bottom","values":[0,0.25,0.5,0.75,1,1.25,1.5,1.75,2,2.25],"tickSize":{"condition":{"test":"datum.value*2 % 1 === 0","value":-13},"value":-7},"labelOffset":{"condition":{"test":"datum.value === 0","value":-7},"value":0},"labelExpr":"datum.value === 0 ? '0' : (datum.value*2 % 1 === 0 ? format(datum.value,'.1f') : '')","labelPadding":18,"title":"Time / μs","titleY":51,"titleBaseline":"alphabetic"}},
"y":{"field":"v","type":"quantitative","scale":{"domain":[2,7],"nice":false,"zero":false},
"axis":{"orient":"left","values":[2,2.5,3,3.5,4,4.5,5,5.5,6,6.5,7],"tickSize":{"condition":{"test":"datum.value % 1 === 0","value":-13},"value":-7},"labelExpr":"datum.value % 1 === 0 ? format(datum.value,'d') : ''","labelPadding":19,"title":"Cα RMSD / Å","titleX":-42,"titleY":110,"titleAngle":-90,"titleAlign":"center","titleBaseline":"middle"}},
"color":{"field":"rep","type":"nominal","scale":{"domain":["a","b","c","d"],"range":["#22ee66","#e8637f","#1a9bd7","#c44ff2"]},
"legend":{"orient":"none","legendX":391,"legendY":61.5,"title":null,"symbolType":"stroke","symbolSize":529,"symbolStrokeWidth":2.5,"labelFontSize":22,"labelColor":"#333","labelFont":"Liberation Sans","labelOffset":11,"padding":0,"rowPadding":1.8,"labelExpr":"'rep. ' + (indexof('abcd', datum.label) + 1)"}}
}},
{"mark":{"type":"rule","opacity":0},
"encoding":{
"x":{"field":"t","type":"quantitative","axis":{"orient":"top","labels":false,"ticks":false,"title":"Cas-w/oPAM","titleFontSize":27,"titleX":175,"titleY":-14,"titleAlign":"center","titleBaseline":"alphabetic","titleColor":"#2a2a2a"}}
}}
]},
{"width":362,"height":220,
"data":{"name":"ab"},
"transform":[{"fold":["b","c","d","a"],"as":["rep","v"]},{"filter":"isValid(datum.v)"}],
"mark":{"type":"line","strokeWidth":1.3,"clip":true},
"encoding":{
"x":{"field":"t","type":"quantitative","scale":{"domain":[-0.05,1.52],"nice":false,"zero":false},
"axis":{"orient":"bottom","values":[0,0.25,0.5,0.75,1,1.25,1.5],"tickSize":{"condition":{"test":"datum.value*2 % 1 === 0","value":-13},"value":-7},"labelExpr":"datum.value === 0 ? '0' : (datum.value*2 % 1 === 0 ? format(datum.value,'.1f') : '')","labelPadding":18,"title":"Time / μs","titleY":51,"titleBaseline":"alphabetic"}},
"y":{"field":"v","type":"quantitative","scale":{"domain":[3,8],"nice":false,"zero":false},
"axis":{"orient":"left","values":[3,3.5,4,4.5,5,5.5,6,6.5,7,7.5,8],"tickSize":{"condition":{"test":"datum.value % 1 === 0","value":-13},"value":-7},"labelExpr":"datum.value % 1 === 0 ? format(datum.value,'d') : ''","labelPadding":17,"title":"All-atom RMSD / Å","titleX":-38,"titleY":110,"titleAngle":-90,"titleAlign":"center","titleBaseline":"middle"}},
"color":{"field":"rep","type":"nominal","scale":{"domain":["a","b","c","d"],"range":["#22ee66","#e8637f","#1a9bd7","#c44ff2"]},"legend":null}
}},
{"width":362,"height":220,
"data":{"name":"bb"},
"transform":[{"fold":["b","c","d","a"],"as":["rep","v"]},{"filter":"isValid(datum.v)"}],
"mark":{"type":"line","strokeWidth":1.3,"clip":true},
"encoding":{
"x":{"field":"t","type":"quantitative","scale":{"domain":[-0.1,2.3],"nice":false,"zero":false},
"axis":{"orient":"bottom","values":[0,0.25,0.5,0.75,1,1.25,1.5,1.75,2,2.25],"tickSize":{"condition":{"test":"datum.value*2 % 1 === 0","value":-13},"value":-7},"labelOffset":{"condition":{"test":"datum.value === 0","value":-7},"value":0},"labelExpr":"datum.value === 0 ? '0' : (datum.value*2 % 1 === 0 ? format(datum.value,'.1f') : '')","labelPadding":18,"title":"Time / μs","titleY":51,"titleBaseline":"alphabetic"}},
"y":{"field":"v","type":"quantitative","scale":{"domain":[3,8],"nice":false,"zero":false},
"axis":{"orient":"left","values":[3,3.5,4,4.5,5,5.5,6,6.5,7,7.5,8],"tickSize":{"condition":{"test":"datum.value % 1 === 0","value":-13},"value":-7},"labelExpr":"datum.value % 1 === 0 ? format(datum.value,'d') : ''","labelPadding":19,"title":"All-atom RMSD / Å","titleX":-42,"titleY":110,"titleAngle":-90,"titleAlign":"center","titleBaseline":"middle"}},
"color":{"field":"rep","type":"nominal","scale":{"domain":["a","b","c","d"],"range":["#22ee66","#e8637f","#1a9bd7","#c44ff2"]},
"legend":{"orient":"none","legendX":391,"legendY":59.5,"title":null,"symbolType":"stroke","symbolSize":529,"symbolStrokeWidth":2.5,"labelFontSize":22,"labelColor":"#333","labelFont":"Liberation Sans","labelOffset":11,"padding":0,"rowPadding":1.8,"labelExpr":"'rep. ' + (indexof('abcd', datum.label) + 1)"}}
}}
]
}
